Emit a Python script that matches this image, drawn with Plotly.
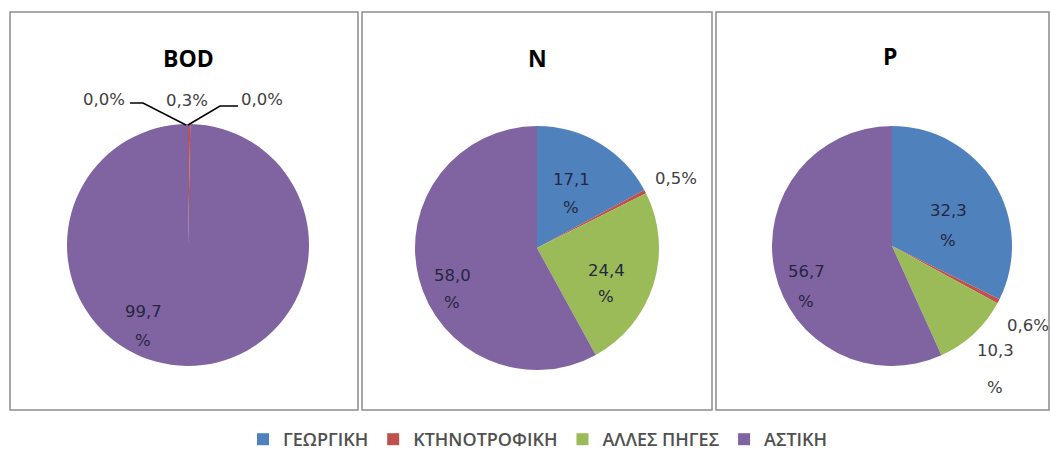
import plotly.graph_objects as go

categories = ["ΓΕΩΡΓΙΚΗ", "ΚΤΗΝΟΤΡΟΦΙΚΗ", "ΑΛΛΕΣ ΠΗΓΕΣ", "ΑΣΤΙΚΗ"]
colors = ["#4F81BD", "#C0504D", "#9BBB59", "#8064A2"]
titles = ["BOD", "N", "P"]
bod_values = [0.0, 0.3, 0.0, 99.7]
n_values = [17.1, 0.5, 24.4, 58.0]
p_values = [32.3, 0.6, 10.3, 56.7]

W, H = 1051, 458
FONT = "Open Sans"
LBL_FONT = "DejaVu Sans"
LBL = 16.5

def px_x(x):
    return x / W

def px_y(y):
    return 1 - y / H

def num_text(v):
    return f"{v:.1f}".replace(".", ",")

# pie geometry (centre px, radius px)
geoms = [(188, 245, 121), (537, 248, 122), (892, 246, 120)]
panels = [(10, 12, 358, 410), (362, 12, 712, 410), (716, 12, 1049, 410)]

# data-label layout: (chart, slice) -> (x, y of first line, line gap or None for one line)
label_pos = {
    (0, 0): (104, 99, None), (0, 1): (187, 100, None), (0, 2): (262, 99, None),
    (0, 3): (143, 311, 29),
    (1, 0): (571, 179, 28), (1, 1): (676, 178, None), (1, 2): (606, 270, 26),
    (1, 3): (452, 275, 27),
    (2, 0): (948, 210, 30), (2, 1): (1028, 325, None), (2, 2): (995, 350, 37),
    (2, 3): (806, 271, 30),
}

fig = go.Figure()
all_values = [bod_values, n_values, p_values]
annotations = []

def add_text(txt, x, y, color, family=LBL_FONT, size=LBL):
    annotations.append(dict(
        text=txt, x=px_x(x), y=px_y(y), xref="paper", yref="paper",
        xanchor="center", yanchor="middle", showarrow=False,
        font=dict(family=family, size=size, color=color)))

for i, vals in enumerate(all_values):
    cx, cy, r = geoms[i]
    for j, v in enumerate(vals):
        lx, ly, gap = label_pos[(i, j)]
        inside = v >= 15
        col = "#262640" if inside else "#404040"
        if gap is None:
            add_text(num_text(v) + "%", lx, ly, col)
        else:
            add_text(num_text(v), lx, ly, col)
            add_text("%", lx, ly + gap, col)
    fig.add_trace(go.Pie(
        labels=categories, values=vals, sort=False, direction="clockwise",
        rotation=0, marker=dict(colors=colors, line=dict(width=0)),
        textinfo="none",
        domain=dict(x=[px_x(cx - r), px_x(cx + r)], y=[px_y(cy + r), px_y(cy - r)]),
        showlegend=(i == 2), hoverinfo="label+percent",
    ))

shapes = []
for (x0, y0, x1, y1) in panels:
    shapes.append(dict(type="rect", xref="paper", yref="paper",
                       x0=px_x(x0), x1=px_x(x1), y0=px_y(y1), y1=px_y(y0),
                       line=dict(color="#8c8c8c", width=1.5)))

title_pos = [(188, 58), (537, 58), (890, 56)]
for t, (tx, ty) in zip(titles, title_pos):
    add_text(f"<b>{t}</b>", tx, ty, "#000000", family=FONT, size=23)

# BOD leader lines
shapes.append(dict(type="path", xref="paper", yref="paper",
                   path=f"M {px_x(130)} {px_y(103)} L {px_x(143)} {px_y(103)} L {px_x(186)} {px_y(125)}",
                   line=dict(color="#000000", width=1.5)))
shapes.append(dict(type="path", xref="paper", yref="paper",
                   path=f"M {px_x(188)} {px_y(125)} L {px_x(220)} {px_y(106)} L {px_x(238)} {px_y(106)}",
                   line=dict(color="#000000", width=1.5)))

fig.update_layout(
    width=W, height=H, margin=dict(l=0, r=0, t=0, b=0, autoexpand=False),
    paper_bgcolor="white", plot_bgcolor="white",
    separators=",.",
    shapes=shapes, annotations=annotations,
    legend=dict(orientation="h", x=px_x(538), xanchor="center", y=0, yanchor="bottom",
                font=dict(family=FONT, size=18, color="#505050", weight=600), traceorder="normal",
                itemwidth=30),
)
fig.write_html("out.html", config={"displayModeBar": False},
               post_script="document.body.style.margin='0px';")
